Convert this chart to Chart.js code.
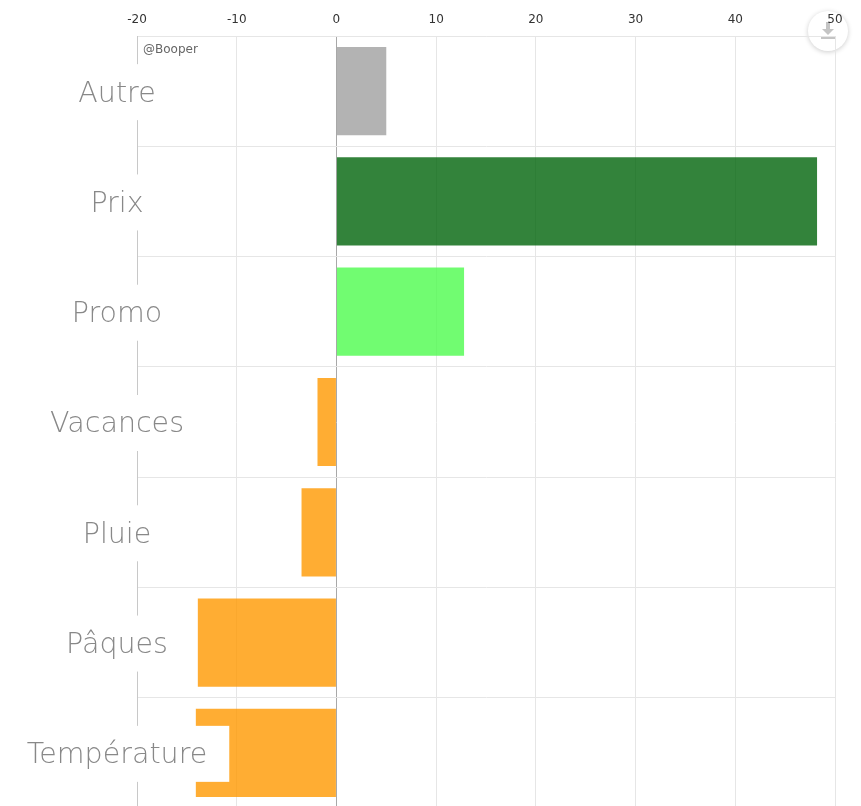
<!DOCTYPE html>
<html lang="fr">
  <head>
    <meta charset="UTF-8" />
    <title>Facteurs</title>
    <script src="https://cdn.jsdelivr.net/npm/chart.js"></script>
    <style>
      html, body {
        margin: 0;
        padding: 0;
        background: #fff;
        overflow: hidden;
      }
      .chart-container {
        position: relative;
        width: 861px;
        height: 810px;
      }
      #barChart {
        position: relative;
        z-index: 2;
      }
      .dl-btn {
        position: absolute;
        z-index: 1;
        left: 808px;
        top: 11px;
        width: 40px;
        height: 40px;
        border-radius: 50%;
        background: #fff;
        box-shadow: 0 1px 5px rgba(0, 0, 0, 0.2);
      }
      .dl-btn .stem {
        position: absolute;
        left: 18px;
        top: 11px;
        width: 4px;
        height: 7px;
        background: #c4c4c4;
      }
      .dl-btn .head {
        position: absolute;
        left: 14px;
        top: 18px;
        border-left: 6px solid transparent;
        border-right: 6px solid transparent;
        border-top: 6px solid #c4c4c4;
      }
      .dl-btn .base {
        position: absolute;
        left: 13px;
        top: 26px;
        width: 14px;
        height: 2px;
        background: #c4c4c4;
      }
    </style>
  </head>
  <body>
    <div class="chart-container">
      <div class="dl-btn"><div class="stem"></div><div class="head"></div><div class="base"></div></div>
      <canvas id="barChart"></canvas>
    </div>

    <script>
      const categories = ["Autre", "Prix", "Promo", "Vacances", "Pluie", "Pâques", "Température"];
      const values = [5, 48.2, 12.8, -1.9, -3.5, -13.9, -14.1];
      const barColors = [
        "rgba(160,160,160,0.8)",
        "rgba(0,100,10,0.8)",
        "rgba(77,251,77,0.8)",
        "rgba(255,153,0,0.8)",
        "rgba(255,153,0,0.8)",
        "rgba(255,153,0,0.8)",
        "rgba(255,153,0,0.8)",
      ];
      const xMin = -20;
      const xMax = 50;
      const xStep = 10;

      // labels centred left of the axis, on a white box that hides the axis line
      const categoryLabels = {
        id: "categoryLabels",
        afterDatasetsDraw(chart) {
          const ctx = chart.ctx;
          const yScale = chart.scales.y;
          ctx.save();
          ctx.font = "200 28.5px 'DejaVu Sans'";
          ctx.textAlign = "center";
          ctx.textBaseline = "middle";
          categories.forEach((label, i) => {
            const y = yScale.getPixelForValue(i);
            const w = ctx.measureText(label).width;
            ctx.fillStyle = "#fff";
            ctx.fillRect(117 - w / 2 - 22, y - 27, w + 44, 56);
            ctx.fillStyle = "#888";
            ctx.fillText(label, 117, y + 3);
          });
          ctx.fillStyle = "#666";
          ctx.font = "12px 'DejaVu Sans'";
          ctx.textAlign = "left";
          ctx.fillText("@Booper", chart.chartArea.left + 6, chart.chartArea.top + 14);
          ctx.restore();
        },
      };

      const ctxBar = document.getElementById("barChart").getContext("2d");
      new Chart(ctxBar, {
        type: "bar",
        data: {
          labels: categories,
          datasets: [
            {
              data: values,
              backgroundColor: barColors,
              borderWidth: 0,
              categoryPercentage: 1,
              barPercentage: 0.8,
            },
          ],
        },
        plugins: [categoryLabels],
        options: {
          indexAxis: "y",
          responsive: true,
          maintainAspectRatio: false,
          animation: false,
          layout: { padding: { right: 26, bottom: 2 } },
          plugins: {
            legend: { display: false },
            tooltip: { enabled: false },
          },
          scales: {
            x: {
              position: "top",
              min: xMin,
              max: xMax,
              ticks: {
                stepSize: xStep,
                padding: 9,
                color: "#333",
                font: { family: "'DejaVu Sans'", size: 12 },
              },
              grid: {
                drawTicks: false,
                color: (c) => (c.tick && c.tick.value === 0 ? "#a8a8a8" : "#e6e6e6"),
              },
              border: { display: true, color: "#e6e6e6" },
              afterFit(scale) {
                scale.height = 36;
              },
            },
            y: {
              ticks: { display: false },
              grid: { drawTicks: false, color: "#e6e6e6", offset: true },
              border: { display: true, color: "#c8c8c8" },
              afterFit(scale) {
                scale.width = 137;
              },
            },
          },
        },
      });
    </script>
  </body>
</html>
